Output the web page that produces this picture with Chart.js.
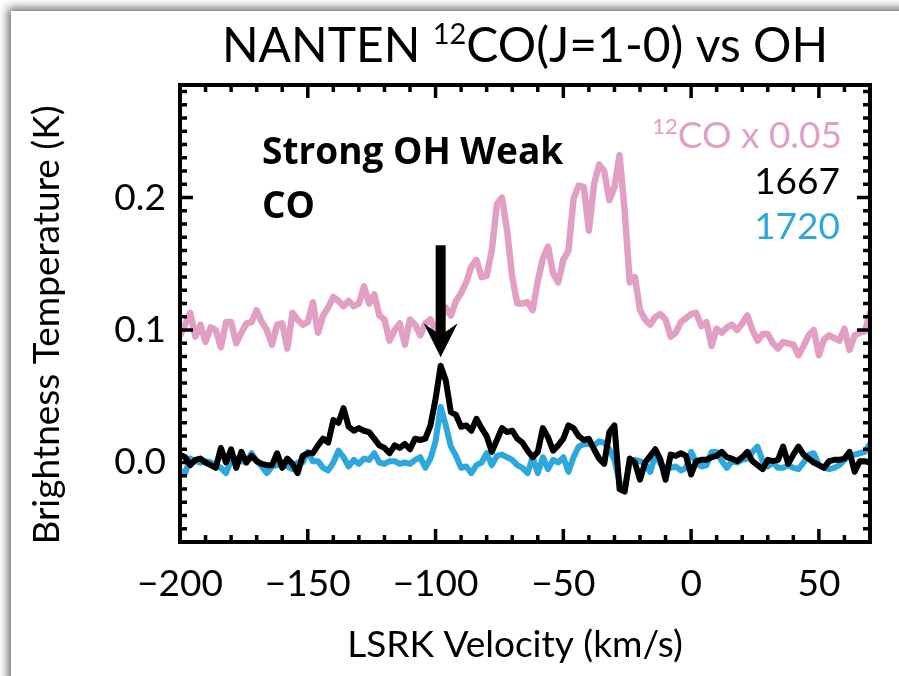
<!DOCTYPE html>
<html>
<head>
<meta charset="utf-8">
<script src="https://cdn.jsdelivr.net/npm/chart.js@4.4.1/dist/chart.umd.min.js"></script>
<style>
  html, body { margin: 0; padding: 0; background: #fff; }
  #wrap { position: relative; width: 899px; height: 676px; overflow: hidden; background: #fff; }
  #panel { position: absolute; left: 11px; top: 11px; width: 1000px; height: 1000px; background: #fff;
           box-shadow: -3px -3px 9px rgba(0,0,0,0.6); }
  canvas { position: absolute; left: 0; top: 0; }
</style>
</head>
<body>
<div id="wrap"><div id="panel"></div><canvas id="spec" width="899" height="676"></canvas></div>
<script>
// velocity channels (km/s), 2 km/s spacing
var velocity = [];
for (var v = -200; v <= 70; v += 2) velocity.push(v);

// NANTEN 12CO scaled by 0.05 (K)
var co12 = [
  0.096, 0.104, 0.113, 0.095, 0.104, 0.091, 0.102, 0.100, 0.087, 0.106,
  0.106, 0.090, 0.098, 0.105, 0.106, 0.115, 0.106, 0.100, 0.089, 0.104,
  0.105, 0.086, 0.113, 0.108, 0.104, 0.106, 0.121, 0.098, 0.111, 0.117,
  0.125, 0.122, 0.118, 0.122, 0.118, 0.120, 0.133, 0.120, 0.127, 0.111,
  0.108, 0.092, 0.100, 0.105, 0.089, 0.108, 0.104, 0.096, 0.105, 0.108,
  0.100, 0.108, 0.117, 0.111, 0.122, 0.128, 0.136, 0.148, 0.153, 0.140,
  0.141, 0.160, 0.195, 0.200, 0.175, 0.140, 0.120, 0.120, 0.121, 0.115,
  0.137, 0.154, 0.163, 0.143, 0.136, 0.153, 0.160, 0.199, 0.209, 0.208,
  0.175, 0.210, 0.225, 0.220, 0.198, 0.208, 0.232, 0.190, 0.136, 0.140,
  0.115, 0.108, 0.104, 0.110, 0.112, 0.108, 0.095, 0.098, 0.106, 0.109,
  0.112, 0.113, 0.103, 0.106, 0.088, 0.101, 0.098, 0.102, 0.104, 0.100,
  0.105, 0.111, 0.100, 0.092, 0.097, 0.097, 0.090, 0.086, 0.091, 0.090,
  0.089, 0.081, 0.088, 0.096, 0.100, 0.081, 0.093, 0.096, 0.094, 0.092,
  0.101, 0.085, 0.096, 0.098, 0.099, 0.113
];

// OH 1667 MHz (K)
var oh1667 = [
  0.006, 0.004, -0.002, 0.002, 0.003, 0.000, -0.002, -0.004, 0.011, 0.000,
  0.010, -0.004, 0.008, 0.000, 0.005, 0.001, -0.001, -0.002, -0.002, 0.007,
  -0.004, 0.003, -0.001, -0.008, 0.005, 0.007, 0.007, 0.013, 0.018, 0.015,
  0.032, 0.030, 0.041, 0.027, 0.024, 0.026, 0.024, 0.023, 0.018, 0.013,
  0.011, 0.007, 0.013, 0.011, 0.014, 0.010, 0.018, 0.017, 0.018, 0.028,
  0.048, 0.073, 0.062, 0.038, 0.036, 0.027, 0.028, 0.024, 0.033, 0.026,
  0.020, 0.008, 0.017, 0.026, 0.023, 0.024, 0.018, 0.015, 0.009, 0.004,
  0.008, 0.026, 0.019, 0.009, 0.013, 0.018, 0.028, 0.026, 0.020, 0.017,
  0.018, 0.010, 0.003, -0.001, 0.023, 0.028, -0.020, -0.022, 0.003, 0.000,
  -0.013, 0.000, 0.005, 0.010, 0.002, -0.013, 0.006, 0.005, 0.007, 0.005,
  -0.009, 0.001, 0.002, 0.002, 0.004, 0.005, 0.008, 0.004, 0.003, 0.001,
  0.004, 0.008, 0.001, -0.002, -0.005, 0.002, 0.001, 0.002, 0.012, -0.001,
  0.006, 0.012, 0.006, 0.003, 0.000, -0.002, -0.004, 0.001, 0.002, 0.002,
  0.003, 0.008, -0.007, 0.001, 0.001, 0.000
];

// OH 1720 MHz (K)
var oh1720 = [
  -0.006, -0.008, 0.003, 0.001, 0.000, 0.001, 0.000, -0.002, -0.004, -0.008,
  0.002, 0.003, 0.001, 0.000, 0.007, 0.001, -0.003, -0.008, -0.003, -0.002,
  0.000, -0.003, -0.005, 0.000, 0.000, 0.008, 0.001, 0.001, -0.004, -0.006,
  0.000, 0.009, 0.004, -0.003, 0.002, -0.001, 0.003, 0.002, 0.007, 0.000,
  -0.001, 0.001, 0.001, -0.001, 0.000, -0.001, 0.002, 0.004, -0.004, 0.003,
  0.016, 0.042, 0.028, 0.012, 0.005, -0.004, -0.003, -0.008, -0.002, 0.000,
  0.007, -0.002, 0.005, 0.006, 0.004, 0.002, -0.002, -0.004, -0.008, 0.004,
  -0.008, 0.004, -0.005, 0.002, 0.000, 0.004, -0.007, 0.004, 0.012, 0.014,
  0.014, 0.013, 0.016, 0.015, 0.010, 0.002, -0.015, -0.020, 0.001, 0.002,
  0.001, -0.001, -0.007, 0.006, -0.001, -0.004, -0.004, -0.003, -0.006, -0.004,
  0.008, 0.000, -0.003, -0.002, 0.008, 0.008, 0.001, -0.004, 0.001, 0.000,
  0.002, 0.003, 0.008, 0.012, 0.001, -0.003, 0.000, -0.004, -0.004, -0.002,
  -0.004, -0.005, 0.000, 0.006, 0.007, -0.002, -0.004, -0.005, -0.004, -0.002,
  0.002, 0.005, 0.006, 0.007, 0.008, 0.014
];

var xTicks = [-200, -150, -100, -50, 0, 50];
var yTicks = [0.0, 0.1, 0.2];
var xRange = [-200, 70];
var yRange = [-0.06, 0.285];

var PINK = '#e29fc4', BLUE = '#2ea8dc', BLACK = '#000000';
var FONT = 'Lato, "Open Sans", sans-serif';

function pts(arr) {
  return velocity.map(function (v, i) { return { x: v, y: arr[i] }; });
}

// text with superscript pieces, aligned 'left' | 'center' | 'right'
function drawParts(ctx, parts, x, y, size, align, color) {
  var supSize = Math.round(size * 0.6);
  var w = 0;
  parts.forEach(function (p) {
    ctx.font = (p.sup ? supSize : size) + 'px ' + FONT;
    p.w = ctx.measureText(p.t).width;
    w += p.w;
  });
  var cx = align === 'center' ? x - w / 2 : align === 'right' ? x - w : x;
  ctx.fillStyle = color;
  ctx.textAlign = 'left';
  ctx.textBaseline = 'alphabetic';
  parts.forEach(function (p) {
    ctx.font = (p.sup ? supSize : size) + 'px ' + FONT;
    ctx.fillText(p.t, cx, p.sup ? y - size * 0.38 : y);
    cx += p.w;
  });
}

var overlay = {
  id: 'overlay',
  afterDraw: function (chart) {
    var ctx = chart.ctx, a = chart.chartArea;
    var xs = chart.scales.x, ys = chart.scales.y;
    ctx.save();

    // inward ticks on all four sides
    ctx.strokeStyle = BLACK;
    ctx.lineWidth = 3.5;
    ctx.beginPath();
    for (var k = Math.ceil(xRange[0] / 10); k <= Math.floor(xRange[1] / 10); k++) {
      var px = xs.getPixelForValue(k * 10);
      var len = (k % 5 === 0) ? 13 : 7;
      ctx.moveTo(px, a.bottom); ctx.lineTo(px, a.bottom - len);
      ctx.moveTo(px, a.top); ctx.lineTo(px, a.top + len);
    }
    for (var j = Math.ceil(yRange[0] * 100); j <= Math.floor(yRange[1] * 100); j++) {
      var py = ys.getPixelForValue(j / 100);
      var ln = (j % 10 === 0) ? 13 : 7;
      ctx.moveTo(a.left, py); ctx.lineTo(a.left + ln, py);
      ctx.moveTo(a.right, py); ctx.lineTo(a.right - ln, py);
    }
    ctx.stroke();
    ctx.lineWidth = 4;
    ctx.strokeRect(a.left, a.top, a.right - a.left, a.bottom - a.top);

    // title
    drawParts(ctx, [{ t: 'NANTEN ' }, { t: '12', sup: true }, { t: 'CO(J=1-0) vs OH' }],
      (a.left + a.right) / 2, 62, 48, 'center', BLACK);

    // axis titles
    ctx.fillStyle = BLACK;
    ctx.font = '37px ' + FONT;
    ctx.textAlign = 'center';
    ctx.textBaseline = 'alphabetic';
    ctx.fillText('LSRK Velocity (km/s)', (a.left + a.right) / 2 - 10, 657);
    ctx.save();
    ctx.translate(59, 325);
    ctx.rotate(-Math.PI / 2);
    ctx.fillText('Brightness Temperature (K)', 0, 0);
    ctx.restore();

    // legend text
    drawParts(ctx, [{ t: '12', sup: true }, { t: 'CO x 0.05' }], 842, 148, 37, 'right', PINK);
    drawParts(ctx, [{ t: '1667' }], 840, 194, 37, 'right', BLACK);
    drawParts(ctx, [{ t: '1720' }], 840, 239, 37, 'right', BLUE);

    // annotation
    ctx.fillStyle = BLACK;
    ctx.font = 'bold 37px "Open Sans", sans-serif';
    ctx.textAlign = 'left';
    ctx.fillText('Strong OH Weak', 262, 164);
    ctx.fillText('CO', 262, 218);

    // arrow pointing at the OH peak
    var ax = xs.getPixelForValue(-98);
    var ay0 = ys.getPixelForValue(0.164);
    var ay1 = ys.getPixelForValue(0.0795);
    ctx.fillRect(ax - 5, ay0, 10, (ay1 - ay0) - 20);
    ctx.beginPath();
    ctx.moveTo(ax, ay1);
    ctx.lineTo(ax - 17, ay1 - 34);
    ctx.lineTo(ax, ay1 - 22);
    ctx.lineTo(ax + 17, ay1 - 34);
    ctx.closePath();
    ctx.fill();

    ctx.restore();
  }
};

new Chart(document.getElementById('spec').getContext('2d'), {
  type: 'line',
  data: {
    datasets: [
      { label: '1667', data: pts(oh1667), borderColor: BLACK, borderWidth: 6, order: 0 },
      { label: '1720', data: pts(oh1720), borderColor: BLUE, borderWidth: 6, order: 1 },
      { label: '12CO x 0.05', data: pts(co12), borderColor: PINK, borderWidth: 6.5, order: 2 }
    ]
  },
  options: {
    responsive: false,
    animation: false,
    layout: { padding: { left: 0, top: 85, right: 29, bottom: 0 } },
    elements: {
      line: { tension: 0, fill: false, borderJoinStyle: 'round', borderCapStyle: 'round' },
      point: { radius: 0 }
    },
    plugins: { legend: { display: false }, title: { display: false }, tooltip: { enabled: false } },
    scales: {
      x: {
        type: 'linear',
        min: xRange[0], max: xRange[1],
        grid: { display: false, drawTicks: false },
        border: { display: false },
        afterFit: function (s) { s.height = 134; },
        afterBuildTicks: function (s) { s.ticks = xTicks.map(function (v) { return { value: v }; }); },
        ticks: {
          autoSkip: false, maxRotation: 0, minRotation: 0, padding: 20, color: BLACK,
          font: { family: FONT, size: 37 },
          callback: function (v) { return v < 0 ? '\u2212' + Math.abs(v) : String(v); }
        }
      },
      y: {
        min: yRange[0], max: yRange[1],
        grid: { display: false, drawTicks: false },
        border: { display: false },
        afterFit: function (s) { s.width = 180; },
        afterBuildTicks: function (s) { s.ticks = yTicks.map(function (v) { return { value: v }; }); },
        ticks: {
          padding: 14, color: BLACK,
          font: { family: FONT, size: 37 },
          callback: function (v) { return v.toFixed(1); }
        }
      }
    }
  },
  plugins: [overlay]
});
</script>
</body>
</html>
